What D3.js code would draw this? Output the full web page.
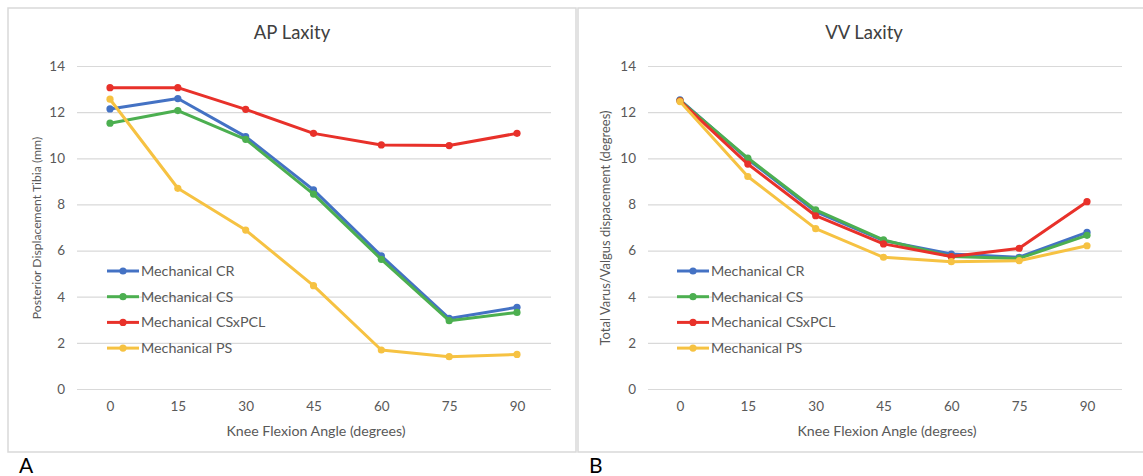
<!DOCTYPE html>
<html><head><meta charset="utf-8">
<script src="https://cdn.jsdelivr.net/npm/d3@7"></script>
<style>body{margin:0;background:#fff}svg{display:block}text{font-family:Lato,"Open Sans",sans-serif}</style>
</head><body>
<svg id="c" width="1143" height="476"></svg>
<script>
const angles = [0, 15, 30, 45, 60, 75, 90];
const yTicks = [0, 2, 4, 6, 8, 10, 12, 14];
const seriesNames = ["Mechanical CR", "Mechanical CS", "Mechanical CSxPCL", "Mechanical PS"];
const seriesColors = ["#4472C4", "#4CAF50", "#E8312A", "#F6C242"];
// AP laxity (mm)
const apCR     = [12.14, 12.59, 10.94, 8.63, 5.77, 3.06, 3.54];
const apCS     = [11.52, 12.07, 10.82, 8.45, 5.62, 2.96, 3.32];
const apCSxPCL = [13.06, 13.06, 12.12, 11.08, 10.58, 10.55, 11.08];
const apPS     = [12.56, 8.70, 6.89, 4.48, 1.69, 1.40, 1.50];
// VV laxity (degrees)
const vvCR     = [12.53, 9.96, 7.69, 6.43, 5.85, 5.71, 6.79];
const vvCS     = [12.50, 10.01, 7.76, 6.46, 5.74, 5.66, 6.66];
const vvCSxPCL = [12.49, 9.75, 7.51, 6.29, 5.74, 6.10, 8.12];
const vvPS     = [12.46, 9.21, 6.95, 5.71, 5.52, 5.56, 6.21];

const svg = d3.select("#c");

function panel(cfg){
  const g = svg.append("g");
  g.append("rect").attr("x", cfg.bx).attr("y", 8).attr("width", cfg.bw).attr("height", 444)
    .attr("fill", "none").attr("stroke", "#d9d9d9").attr("stroke-width", 1.5);
  const x = d3.scalePoint().domain(angles).range([cfg.x0, cfg.x1]);
  const y = d3.scaleLinear().domain([0, 14]).range([389, 66]);
  const ya = d3.axisLeft(y).tickValues(yTicks).tickSize(-(cfg.g1 - cfg.g0)).tickPadding(12);
  const yg = g.append("g").attr("transform", `translate(${cfg.g0},0)`).call(ya);
  yg.select(".domain").remove();
  yg.selectAll("line").attr("stroke", "#d9d9d9").attr("stroke-width", 1.2);
  yg.selectAll("text").attr("fill", "#595959").attr("font-size", 13.5);
  const xa = d3.axisBottom(x).tickSize(0).tickPadding(12);
  const xg = g.append("g").attr("transform", `translate(0,389)`).call(xa);
  xg.select(".domain").remove();
  xg.selectAll("text").attr("fill", "#595959").attr("font-size", 13.5);
  g.append("text").attr("x", cfg.tx).attr("y", 39).attr("text-anchor", "middle")
    .attr("font-size", 18.5).attr("fill", "#404040").text(cfg.title);
  g.append("text").attr("x", (cfg.g0 + cfg.g1) / 2 + 2).attr("y", 436).attr("text-anchor", "middle")
    .attr("font-size", 14.2).attr("fill", "#595959").text("Knee Flexion Angle (degrees)");
  g.append("text").attr("transform", `translate(${cfg.yx},${cfg.yy}) rotate(-90)`).attr("text-anchor", "middle")
    .attr("font-size", cfg.yfs).attr("fill", "#595959").text(cfg.ylabel);
  const line = d3.line().x((d, i) => x(angles[i])).y(d => y(d));
  cfg.data.forEach((vals, si) => {
    g.append("path").datum(vals).attr("d", line).attr("fill", "none")
      .attr("stroke", seriesColors[si]).attr("stroke-width", 3).attr("stroke-linejoin", "round");
    g.selectAll(null).data(vals).enter().append("circle")
      .attr("cx", (d, i) => x(angles[i])).attr("cy", d => y(d)).attr("r", 3.6)
      .attr("fill", seriesColors[si]);
  });
  seriesNames.forEach((n, i) => {
    const ly = 271 + i * 25.7;
    g.append("line").attr("x1", cfg.lx).attr("x2", cfg.lx + 32).attr("y1", ly).attr("y2", ly)
      .attr("stroke", seriesColors[i]).attr("stroke-width", 3);
    g.append("circle").attr("cx", cfg.lx + 16).attr("cy", ly).attr("r", 3.6).attr("fill", seriesColors[i]);
    g.append("text").attr("x", cfg.lx + 34).attr("y", ly + 5).attr("font-size", 14.3)
      .attr("fill", "#595959").text(n);
  });
  g.append("text").attr("x", cfg.bx + 11).attr("y", 473).attr("font-size", 21).attr("fill", "#000").text(cfg.letter);
}

panel({bx: 8, bw: 568, x0: 110, x1: 517, g0: 77, g1: 551, tx: 292, yx: 41, yy: 228, lx: 107, yfs: 12.2,
  title: "AP Laxity", ylabel: "Posterior Displacement Tibia (mm)", letter: "A",
  data: [apCR, apCS, apCSxPCL, apPS]});
panel({bx: 578, bw: 580, x0: 680, x1: 1087, g0: 648, g1: 1122, tx: 864, yx: 610, yy: 228, lx: 677, yfs: 13,
  title: "VV Laxity", ylabel: "Total Varus/Valgus dispacement (degrees)", letter: "B",
  data: [vvCR, vvCS, vvCSxPCL, vvPS]});
</script>
</body></html>
